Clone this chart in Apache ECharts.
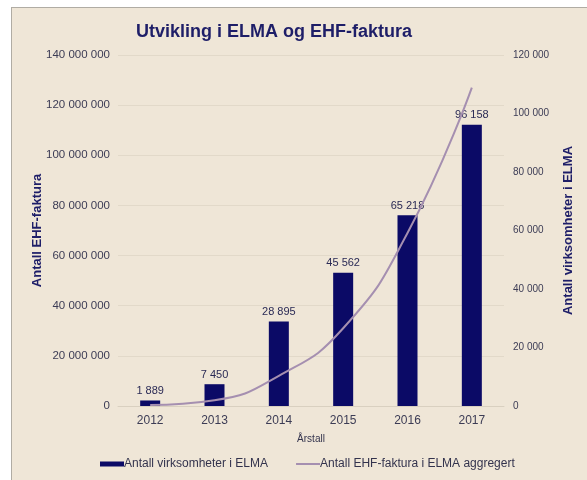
<!DOCTYPE html>
<html>
<head>
<meta charset="utf-8">
<script src="https://cdn.jsdelivr.net/npm/echarts@6/dist/echarts.min.js"></script>
<style>
html, body { margin: 0; padding: 0; background: #fff; overflow: hidden; }
.frame {
	position: absolute;
	left: 11px;
	top: 7px;
	width: 577px;
	height: 473px;
	border-left: 1px solid #b0aca4;
	border-top: 1px solid #b0aca4;
	background: #efe6d7;
}
#chart { width: 577px; height: 473px; }
</style>
</head>
<body>
<div class="frame"><div id="chart"></div></div>
<script type="text/javascript">
'use strict';
var years = ['2012', '2013', '2014', '2015', '2016', '2017'];
var virksomheter = [1889, 7450, 28895, 45562, 65218, 96158];
var ehfFaktura = [400000, 2300000, 12000000, 31000000, 69000000, 127000000];
var leftTicks = [0, 20000000, 40000000, 60000000, 80000000, 100000000, 120000000, 140000000];
var rightTicks = [0, 20000, 40000, 60000, 80000, 100000, 120000];

var fmt = function (v) {
	return String(v).replace(/\B(?=(\d{3})+(?!\d))/g, ' ');
};
var font = 'Liberation Sans, Arial, sans-serif';
var navy = '#1e1e68';
var grey = '#3c3c55';

var myChart = echarts.init(document.getElementById('chart'));
var option = {
	backgroundColor: 'transparent',
	textStyle: { fontFamily: font },
	title: {
		text: 'Utvikling i ELMA og EHF-faktura',
		left: 119,
		top: 10,
		textStyle: { fontSize: 18, fontWeight: 'bold', color: navy, fontFamily: font }
	},
	grid: { left: 106, right: 85, top: 47, bottom: 75 },
	legend: {
		left: 83,
		top: 445,
		itemGap: 27,
		itemWidth: 24,
		itemHeight: 5,
		textStyle: { fontSize: 12, color: '#33334d', fontFamily: font, padding: [0, 0, 0, -5] },
		data: [
			{ name: 'Antall virksomheter i ELMA', icon: 'rect' },
			{ name: 'Antall EHF-faktura i ELMA aggregert', itemStyle: { opacity: 0 }, lineStyle: { width: 2 } }
		]
	},
	xAxis: {
		type: 'category',
		data: years,
		name: 'Årstall',
		nameLocation: 'middle',
		nameGap: 28,
		nameMoveOverlap: false,
		nameTextStyle: { fontSize: 10, color: '#33334d', fontFamily: font },
		axisLine: { lineStyle: { color: '#d9d0c0' } },
		axisTick: { show: false },
		axisLabel: { fontSize: 12, color: grey, margin: 9 }
	},
	yAxis: [{
		type: 'value',
		min: leftTicks[0],
		max: leftTicks[leftTicks.length - 1],
		interval: leftTicks[1] - leftTicks[0],
		name: 'Antall EHF-faktura',
		nameLocation: 'middle',
		nameGap: 74,
		nameMoveOverlap: false,
		nameTextStyle: { fontSize: 13, fontWeight: 'bold', color: navy, fontFamily: font },
		axisLabel: { fontSize: 11.5, color: grey, margin: 8, formatter: fmt },
		splitLine: { lineStyle: { color: '#e2d9c9' } },
		axisLine: { show: false },
		axisTick: { show: false }
	}, {
		type: 'value',
		min: rightTicks[0],
		max: rightTicks[rightTicks.length - 1],
		interval: rightTicks[1] - rightTicks[0],
		name: 'Antall virksomheter i ELMA',
		nameLocation: 'middle',
		nameGap: 58,
		nameMoveOverlap: false,
		nameTextStyle: { fontSize: 13, fontWeight: 'bold', color: navy, fontFamily: font },
		axisLabel: { fontSize: 10, color: grey, margin: 9, formatter: fmt },
		splitLine: { show: false },
		axisLine: { show: false },
		axisTick: { show: false }
	}],
	series: [{
		name: 'Antall virksomheter i ELMA',
		type: 'bar',
		yAxisIndex: 1,
		barWidth: 20,
		data: virksomheter,
		itemStyle: { color: '#0b0a66' },
		label: {
			show: true,
			position: 'top',
			distance: 4,
			fontSize: 11,
			color: '#2a2a55',
			fontFamily: font,
			formatter: function (p) { return fmt(p.value); }
		}
	}, {
		name: 'Antall EHF-faktura i ELMA aggregert',
		type: 'line',
		yAxisIndex: 0,
		smooth: true,
		symbol: 'none',
		data: ehfFaktura,
		lineStyle: { color: '#a58fb0', width: 2 },
		itemStyle: { color: '#a58fb0' },
		z: 3
	}]
};
myChart.setOption(option);
window.onresize = myChart.resize;
</script>
</body>
</html>
